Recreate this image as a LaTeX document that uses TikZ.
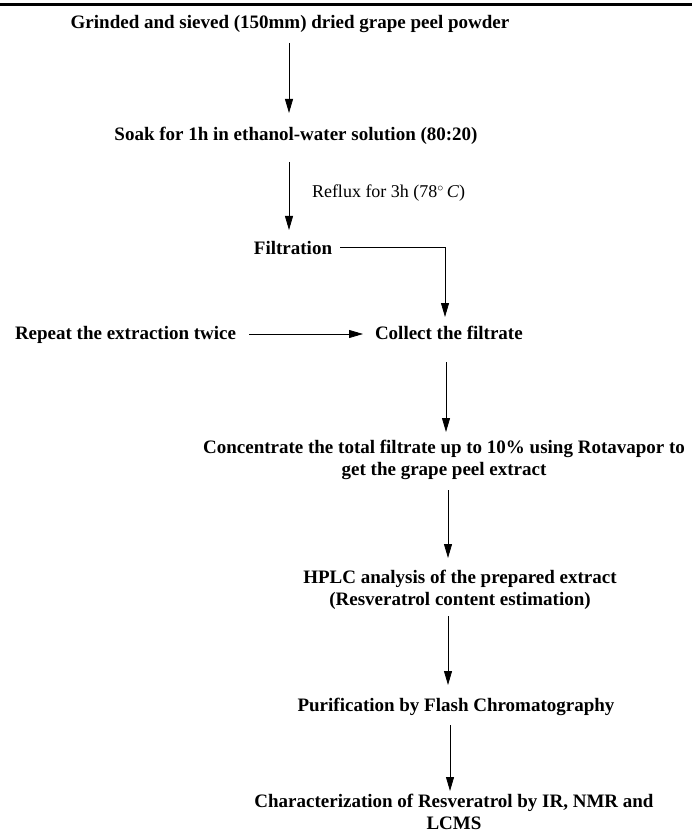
\documentclass[tikz,border=0pt]{standalone}
\usepackage{fontspec}
\setmainfont{Liberation Serif}
\usetikzlibrary{arrows.meta}
\newcommand\tstr{\rule{0pt}{14pt}}
\newcommand\bstr{\rule[-4pt]{0pt}{4pt}}
\begin{document}
\begin{tikzpicture}[x=1pt,y=-1pt,
  lbl/.style={inner sep=0pt, outer sep=0pt, font=\bfseries\fontsize{19}{22}\selectfont, text height=14pt, text depth=4pt, anchor=base},
  lbltwo/.style={inner sep=0pt, outer sep=0pt, font=\bfseries\fontsize{19}{22}\selectfont, align=center, anchor=north},
  note/.style={inner sep=0pt, outer sep=0pt, font=\fontsize{18}{21}\selectfont, anchor=base west},
  arr/.style={draw, line width=0.8pt, -{Triangle[length=14pt,width=8pt]}}]
\useasboundingbox (0,0) rectangle (692,834);
\draw[line width=3pt] (0,4.5) -- (692,4.5);

\node[lbl] (t1) at (290,29) {Grinded and sieved (150mm) dried grape peel powder};
\node[lbl] (t2) at (296,141) {Soak for 1h in ethanol-water solution (80:20)};
\node[note] (rfx) at (312,198) {Reflux for 3h (78$^{\circ}$\,\textit{C})};
\node[lbl] (filt) at (293,254) {Filtration};
\node[lbl, anchor=base west] (rep) at (15,339) {Repeat the extraction twice};
\node[lbl, anchor=base west] (col) at (375,339) {Collect the filtrate};
\node[lbltwo] (conc) at (444,439) {\tstr Concentrate the total filtrate up to 10\% using Rotavapor to\\get the grape peel extract\bstr};
\node[lbltwo] (hplc) at (460,569) {\tstr HPLC analysis of the prepared extract\\(Resveratrol content estimation)\bstr};
\node[lbl] (pur) at (456,711) {Purification by Flash Chromatography};
\node[lbltwo] (char) at (454,793) {\tstr Characterization of Resveratrol by IR, NMR and\\LCMS\bstr};

\coordinate (xa) at (289,0);
\coordinate (xb) at (445,0);
\coordinate (xc) at (446,0);
\coordinate (xd) at (448,0);
\coordinate (xe) at (450,0);

\draw[arr, shorten <=10pt, shorten >=14pt] (t1.south -| xa) -- (t2.north -| xa);
\draw[arr, shorten <=17pt, shorten >=10pt] (t2.south -| xa) -- (filt.north -| xa);
\draw[arr, shorten <=8pt, shorten >=8pt] ([yshift=2pt]filt.east) -| (col.north -| xb);
\draw[arr, shorten <=13pt, shorten >=12pt] (rep.east) -- (col.west);
\draw[arr, shorten <=19pt, shorten >=7pt] (col.south -| xc) -- (conc.north -| xc);
\draw[arr, shorten <=11pt, shorten >=11pt] (conc.south -| xd) -- (hplc.north -| xd);
\draw[arr, shorten <=7pt, shorten >=12pt] (hplc.south -| xd) -- (pur.north -| xd);
\draw[arr, shorten <=10pt, shorten >=2pt] (pur.south -| xe) -- (char.north -| xe);
\end{tikzpicture}
\end{document}
